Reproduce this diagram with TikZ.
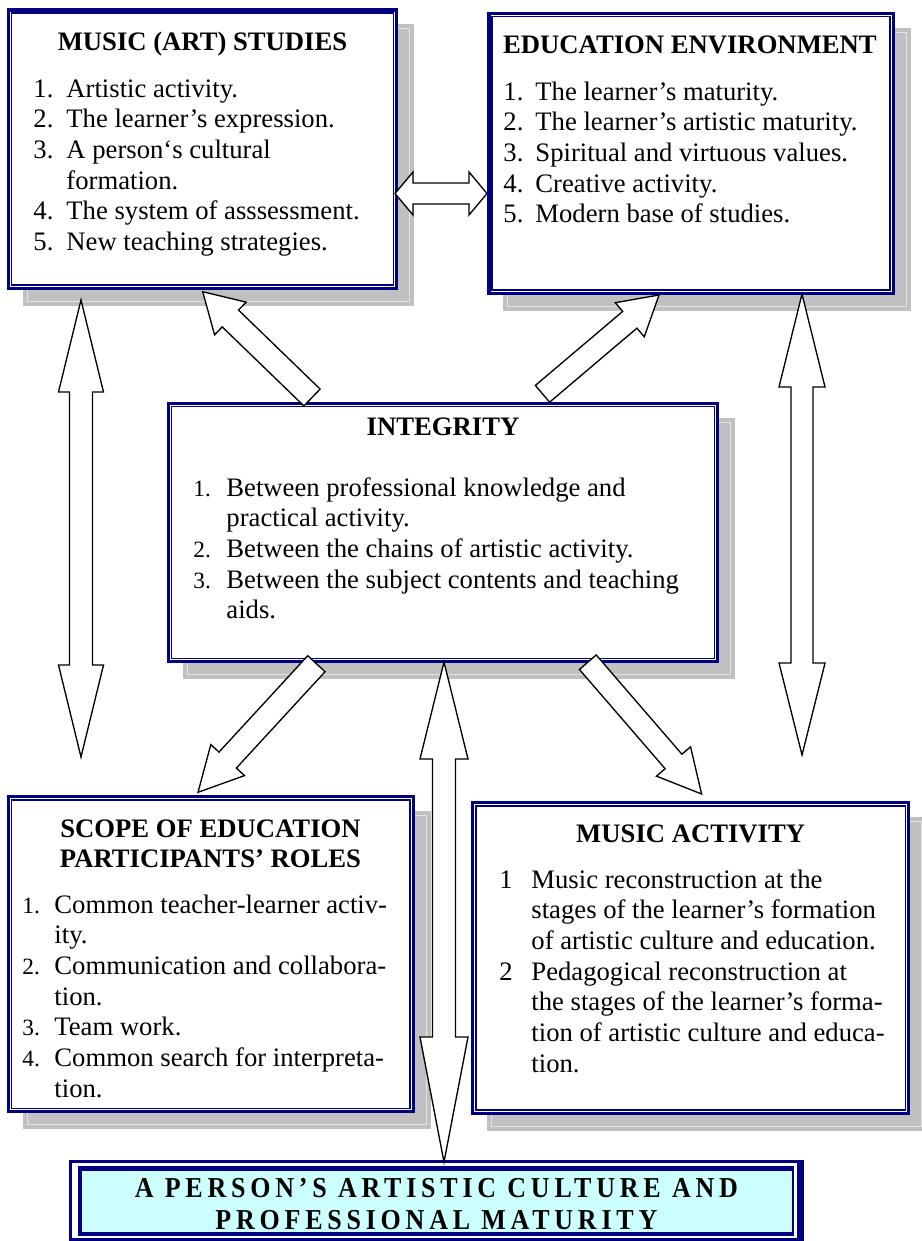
\documentclass[tikz,border=0pt]{standalone}
\usepackage{fontspec}
\setmainfont{Liberation Serif}
\usetikzlibrary{calc,fit}
\definecolor{navy}{RGB}{0,0,128}
\definecolor{shgray}{RGB}{192,192,192}
\definecolor{shline}{RGB}{228,228,228}
\definecolor{bcyan}{RGB}{204,255,255}
\newlength\numw
\newcommand\li[2]{\makebox[\numw][l]{#1}#2}
\newcommand\lis[2]{\makebox[\numw][l]{\fontsize{10.5pt}{12pt}\selectfont#1}#2}
\newcommand\lc[1]{\hspace*{\numw}#1}
\newcommand\shadowrect[4]{%
  \fill[shgray] (#1+14.3,#2+14.3) rectangle (#3+17.7,#4+17.7);
  \draw[shline,line width=0.45pt] (#1+18.8,#2+18.8) rectangle (#3+13.2,#4+13.2);}
\newcommand\innerframe[1]{%
  \draw[navy,line width=0.75pt] ([shift={(4.8,4.8)}]#1.north west) rectangle ([shift={(-4.8,-4.8)}]#1.south east);}
% single block arrow: tail, tip, shaft half width, head half width, head length (px)
\newcommand\blockarrow[5]{%
  \coordinate (ba-hb) at ($(#2)!#5*0.45pt!(#1)$);
  \draw[arrowshape] ($(#1)!#3*0.45pt!90:(#2)$) -- ($(ba-hb)!#3*0.45pt!-90:(#1)$)
    -- ($(ba-hb)!#4*0.45pt!-90:(#1)$) -- (#2) -- ($(ba-hb)!#4*0.45pt!90:(#1)$)
    -- ($(ba-hb)!#3*0.45pt!90:(#1)$) -- ($(#1)!#3*0.45pt!-90:(#2)$) -- cycle;}
% double block arrow: end A, end B, shaft half width, head half width, head length at A, at B
\newcommand\dblarrow[6]{%
  \coordinate (da-ha) at ($(#1)!#5*0.45pt!(#2)$);
  \coordinate (da-hb) at ($(#2)!#6*0.45pt!(#1)$);
  \draw[arrowshape] (#1) -- ($(da-ha)!#4*0.45pt!90:(#2)$) -- ($(da-ha)!#3*0.45pt!90:(#2)$)
    -- ($(da-hb)!#3*0.45pt!-90:(#1)$) -- ($(da-hb)!#4*0.45pt!-90:(#1)$) -- (#2)
    -- ($(da-hb)!#4*0.45pt!90:(#1)$) -- ($(da-hb)!#3*0.45pt!90:(#1)$)
    -- ($(da-ha)!#3*0.45pt!-90:(#2)$) -- ($(da-ha)!#4*0.45pt!-90:(#2)$) -- cycle;}
\begin{document}
\begin{tikzpicture}[x=0.45pt,y=-0.45pt,
  every node/.style={font=\fontsize{12pt}{13.8pt}\selectfont},
  boxframe/.style={draw=navy,line width=1.5pt,fill=white,inner sep=0pt},
  arrowshape/.style={draw=black,fill=white,line width=0.6pt,line join=miter},
  ttl/.style={anchor=base,inner sep=0pt,font=\fontsize{12pt}{13.8pt}\selectfont\bfseries},
  lst/.style={anchor=base west,inner sep=0pt},
  bantext/.style={anchor=base,inner sep=0pt,font=\fontsize{13pt}{15pt}\selectfont\bfseries\addfontfeatures{LetterSpace=16.5,FakeStretch=0.9}}]
\useasboundingbox (0,0) rectangle (921,1241);

% ---- shadows
\shadowrect{8.3}{10}{396.7}{288.3}
\shadowrect{489}{13.3}{893.3}{293.3}
\shadowrect{168.5}{403.5}{717.5}{661.5}
\shadowrect{8.3}{796.7}{413.3}{1111.7}
\shadowrect{472.7}{802.7}{908.7}{1113.3}

% ---- boxes
\node[boxframe,fit={(8.3,10) (396.7,288.3)}] (b1) {};
\innerframe{b1}
\node[boxframe,fit={(489,13.3) (893.3,293.3)}] (b2) {};
\innerframe{b2}
\node[boxframe,fit={(168.5,403.5) (717.5,661.5)}] (b3) {};
\innerframe{b3}
\node[boxframe,fit={(8.3,796.7) (413.3,1111.7)}] (b4) {};
\innerframe{b4}
\node[boxframe,fit={(472.7,802.7) (908.7,1113.3)}] (b5) {};
\innerframe{b5}

% ---- banner
\node[fit={(68.8,1160) (804,1241)},inner sep=0pt,fill=navy] (ban) {};
\fill[white] (72.2,1162.8) rectangle (796.6,1238.3);
\fill[navy] (78,1166) rectangle (794,1235.5);
\fill[bcyan] (81.8,1170.5) rectangle (791.6,1232);

% ---- arrow end points
\coordinate (h0) at (395,193.5);   \coordinate (h1) at (487,193.5);
\coordinate (vl0) at (81,300);     \coordinate (vl1) at (81,757);
\coordinate (vr0) at (802,294);    \coordinate (vr1) at (802,755);
\coordinate (vc0) at (444,662);    \coordinate (vc1) at (444,1162);
\coordinate (aA0) at (312,397.5);  \coordinate (aA1) at (202.7,291.7);
\coordinate (aB0) at (542.5,393.8);\coordinate (aB1) at (659,295);
\coordinate (aC0) at (316.4,663.7);\coordinate (aC1) at (198,792.3);
\coordinate (aD0) at (587.8,662.2);\coordinate (aD1) at (701.6,794);

\dblarrow{h0}{h1}{10.5}{21.5}{18}{18}
\dblarrow{vl0}{vl1}{11.5}{22.5}{92}{92}
\dblarrow{vr0}{vr1}{11}{23}{93}{92}
\dblarrow{vc0}{vc1}{11.5}{24}{97}{125}
\blockarrow{aA0}{aA1}{11.7}{22.7}{38.5}
\blockarrow{aB0}{aB1}{11}{22.4}{38.3}
\blockarrow{aC0}{aC1}{11.8}{22.9}{43.8}
\blockarrow{aD0}{aD1}{11.1}{22.5}{43}

% ---- texts
\node[ttl] (t1) at (202.5,51) {MUSIC (ART) STUDIES};
\node[lst] (l1) at (33,97) {\parbox[t]{330pt}{\setlength\numw{14.85pt}%
\li{1.}{Artistic activity.}\\
\li{2.}{The learner’s expression.}\\
\li{3.}{A person‘s cultural}\\
\lc{formation.}\\
\li{4.}{The system of asssessment.}\\
\li{5.}{New teaching strategies.}}};

\node[ttl] (t2) at (690,53) {EDUCATION ENVIRONMENT};
\node[lst] (l2) at (503,100) {\parbox[t]{330pt}{\setlength\numw{14.4pt}%
\li{1.}{The learner’s maturity.}\\
\li{2.}{The learner’s artistic maturity.}\\
\li{3.}{Spiritual and virtuous values.}\\
\li{4.}{Creative activity.}\\
\li{5.}{Modern base of studies.}}};

\node[ttl] (t3) at (443,435) {INTEGRITY};
\node[lst] (l3) at (193,496) {\parbox[t]{330pt}{\setlength\numw{14.85pt}%
\lis{1.}{Between professional knowledge and}\\
\lc{practical activity.}\\
\lis{2.}{Between the chains of artistic activity.}\\
\lis{3.}{Between the subject contents and teaching}\\
\lc{aids.}}};

\node[ttl] (t4a) at (210.5,837) {SCOPE OF EDUCATION};
\node[ttl] (t4b) at (210.5,867) {PARTICIPANTS’ ROLES};
\node[lst] (l4) at (22,913) {\parbox[t]{330pt}{\setlength\numw{14.4pt}%
\lis{1.}{Common teacher-learner activ-}\\
\lc{ity.}\\
\lis{2.}{Communication and collabora-}\\
\lc{tion.}\\
\lis{3.}{Team work.}\\
\lis{4.}{Common search for interpreta-}\\
\lc{tion.}}};

\node[ttl] (t5) at (690.7,842) {MUSIC ACTIVITY};
\node[lst] (l5) at (499,888) {\parbox[t]{330pt}{\setlength\numw{14.4pt}%
\li{1}{Music reconstruction at the}\\
\lc{stages of the learner’s formation}\\
\lc{of artistic culture and education.}\\
\li{2}{Pedagogical reconstruction at}\\
\lc{the stages of the learner’s forma-}\\
\lc{tion of artistic culture and educa-}\\
\lc{tion.}}};

\node[bantext] (bt1) at (436.4,1197) {A PERSON’S ARTISTIC CULTURE AND};
\node[bantext] (bt2) at (436.4,1229) {PROFESSIONAL MATURITY};
\end{tikzpicture}
\end{document}
